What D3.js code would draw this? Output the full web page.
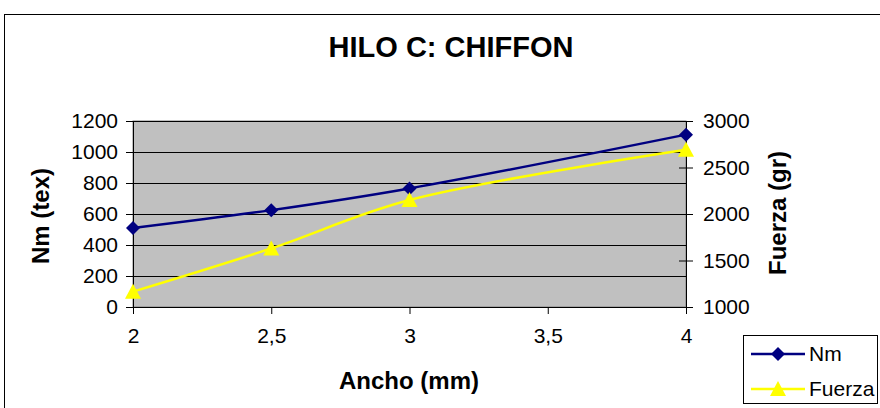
<!DOCTYPE html>
<html>
<head>
<meta charset="utf-8">
<script src="https://cdn.jsdelivr.net/npm/d3@7"></script>
<style>
  html, body { margin: 0; padding: 0; background: #fff; }
  svg { display: block; font-family: "Liberation Sans", Arial, sans-serif; }
</style>
</head>
<body>
<svg id="chart" width="880" height="408"></svg>
<script>
// Ancho del hilo (mm) y mediciones
const ancho = [2, 2.5, 3, 4];
const nm = [510, 625, 765, 1112];
const fuerza = [1165, 1630, 2150, 2690];

const xTicks = [2, 2.5, 3, 3.5, 4];
const yLeftTicks = [0, 200, 400, 600, 800, 1000, 1200];
const yRightTicks = [1000, 1500, 2000, 2500, 3000];

const svg = d3.select("#chart");
const plot = { left: 133, right: 686, top: 121, bottom: 307 };

const x = d3.scaleLinear().domain([2, 4]).range([plot.left, plot.right]);
const yL = d3.scaleLinear().domain([0, 1200]).range([plot.bottom, plot.top]);
const yR = d3.scaleLinear().domain([1000, 3000]).range([plot.bottom, plot.top]);

// Marco del gráfico
svg.append("rect")
  .attr("x", 4.5).attr("y", 14.5)
  .attr("width", 900).attr("height", 420)
  .attr("fill", "#fff").attr("stroke", "#000").attr("stroke-width", 1);

// Título
svg.append("text")
  .attr("x", 451).attr("y", 57)
  .attr("text-anchor", "middle")
  .attr("font-size", 29).attr("font-weight", "bold")
  .text("HILO C: CHIFFON");

// Área de trazado
svg.append("rect")
  .attr("x", plot.left).attr("y", plot.top)
  .attr("width", plot.right - plot.left).attr("height", plot.bottom - plot.top)
  .attr("fill", "#c0c0c0").attr("stroke", "#808080").attr("stroke-width", 1);

// Líneas de cuadrícula
svg.append("g")
  .selectAll("line")
  .data(yLeftTicks.slice(1))
  .join("line")
  .attr("x1", plot.left).attr("x2", plot.right)
  .attr("y1", d => Math.round(yL(d)) + 0.5).attr("y2", d => Math.round(yL(d)) + 0.5)
  .attr("stroke", "#000").attr("stroke-width", 1);

// Ejes
const fmtComma = d => String(d).replace(".", ",");
const fmtInt = d3.format("d");

const axisLeft = svg.append("g")
  .attr("transform", `translate(${plot.left},0)`)
  .call(d3.axisLeft(yL).tickValues(yLeftTicks).tickFormat(fmtInt).tickSize(7).tickPadding(8));

const axisRight = svg.append("g")
  .attr("transform", `translate(${plot.right},0)`)
  .call(d3.axisRight(yR).tickValues(yRightTicks).tickFormat(fmtInt).tickSize(7).tickPadding(10));
axisRight.selectAll(".tick line").attr("x1", -7);

const axisBottom = svg.append("g")
  .attr("transform", `translate(0,${plot.bottom})`)
  .call(d3.axisBottom(x).tickValues(xTicks).tickFormat(fmtComma).tickSize(7).tickPadding(14));

[axisLeft, axisRight, axisBottom].forEach(g => {
  g.selectAll("text").attr("font-size", 21).attr("fill", "#000")
    .attr("font-family", "'Liberation Sans', Arial, sans-serif");
  g.selectAll("line").attr("stroke", "#000");
  g.select(".domain").attr("stroke", "#000");
});

// Títulos de ejes
svg.append("text")
  .attr("transform", "translate(49,216) rotate(-90)")
  .attr("text-anchor", "middle")
  .attr("font-size", 24).attr("font-weight", "bold")
  .text("Nm (tex)");

svg.append("text")
  .attr("transform", "translate(786,213) rotate(-90)")
  .attr("text-anchor", "middle")
  .attr("font-size", 24).attr("font-weight", "bold")
  .text("Fuerza (gr)");

svg.append("text")
  .attr("x", 409).attr("y", 389)
  .attr("text-anchor", "middle")
  .attr("font-size", 24).attr("font-weight", "bold")
  .text("Ancho (mm)");

// Series
const lineNm = d3.line().x((d, i) => x(ancho[i])).y(d => yL(d)).curve(d3.curveCatmullRom.alpha(0.5));
const lineF = d3.line().x((d, i) => x(ancho[i])).y(d => yR(d)).curve(d3.curveCatmullRom.alpha(0.5));

// Marcadores: rombo y triángulo
const diamond = "M0,-7L7,0L0,7L-7,0Z";
const triangle = "M0,-8L8,7L-8,7Z";

svg.append("path").datum(fuerza)
  .attr("d", lineF).attr("fill", "none")
  .attr("stroke", "#ffff00").attr("stroke-width", 2.5);

svg.append("path").datum(nm)
  .attr("d", lineNm).attr("fill", "none")
  .attr("stroke", "#000080").attr("stroke-width", 2.5);

svg.append("g").selectAll("path")
  .data(nm).join("path")
  .attr("transform", (d, i) => `translate(${x(ancho[i])},${yL(d)})`)
  .attr("d", diamond).attr("fill", "#000080");

svg.append("g").selectAll("path")
  .data(fuerza).join("path")
  .attr("transform", (d, i) => `translate(${x(ancho[i])},${yR(d)})`)
  .attr("d", triangle).attr("fill", "#ffff00");

// Leyenda
const legend = svg.append("g");
legend.append("rect")
  .attr("x", 743.5).attr("y", 335.5).attr("width", 134).attr("height", 68)
  .attr("fill", "#fff").attr("stroke", "#000").attr("stroke-width", 1);

const legendItems = [
  { name: "Nm", color: "#000080", sym: diamond, y: 354 },
  { name: "Fuerza", color: "#ffff00", sym: triangle, y: 389 }
];
legendItems.forEach(it => {
  legend.append("line")
    .attr("x1", 751).attr("x2", 805).attr("y1", it.y).attr("y2", it.y)
    .attr("stroke", it.color).attr("stroke-width", 2.5);
  legend.append("path")
    .attr("transform", `translate(778,${it.y})`)
    .attr("d", it.sym).attr("fill", it.color);
  legend.append("text")
    .attr("x", 809).attr("y", it.y + 7)
    .attr("font-size", 21).text(it.name);
});
</script>
</body>
</html>
